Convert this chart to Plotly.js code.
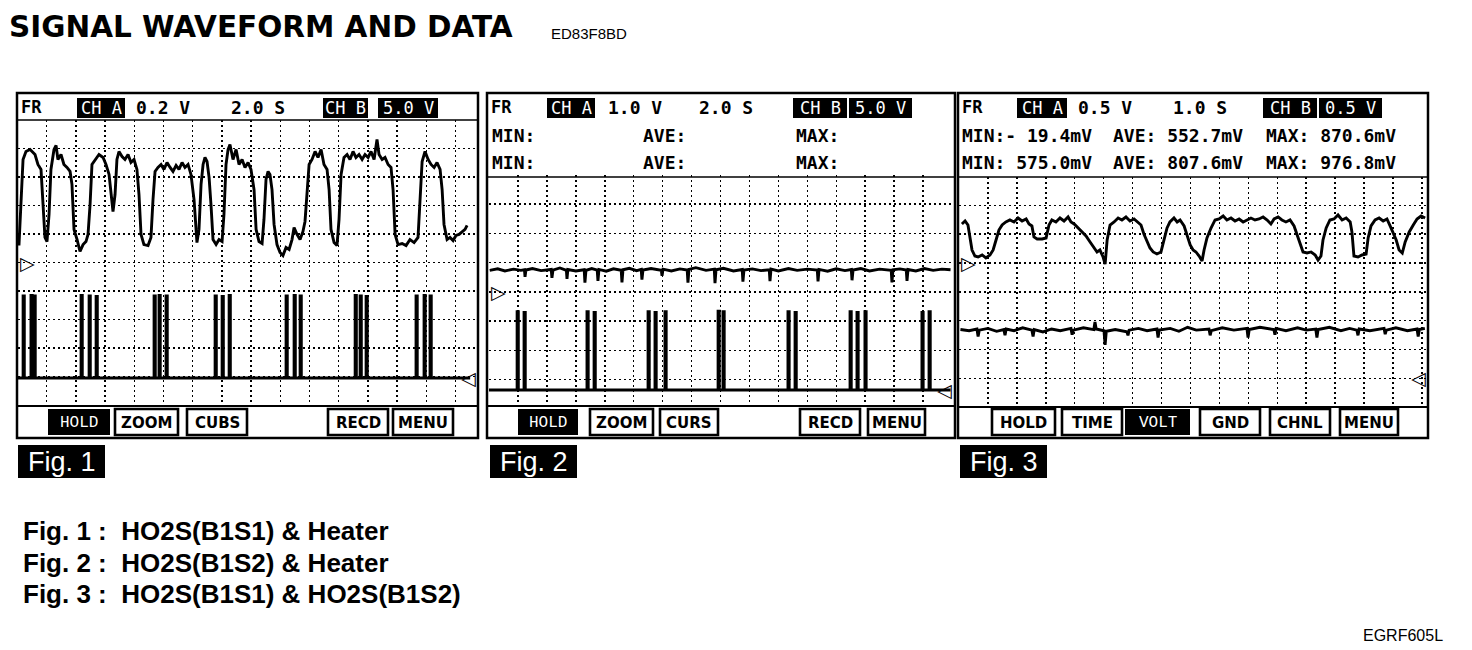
<!DOCTYPE html>
<html><head><meta charset="utf-8">
<script src="https://cdn.plot.ly/plotly-3.0.1.min.js"></script>
<style>html,body{margin:0;padding:0;background:#fff}#chart{width:1472px;height:650px}</style>
</head><body><div id="chart"></div>
<script>
// ===== Fig.1 : HO2S(B1S1) on CH A (0.2 V/div) & heater on CH B (5 V/div), 2.0 s/div
const fig1Time = [0.10,0.24,0.38,0.58,0.86,1.20,1.40,1.61,1.75,1.88,2.02,2.16,2.29,2.50,2.64,2.77,2.98,3.18,3.39,3.60,3.73,3.87,4.08,4.28,4.49,4.69,4.83,4.97,5.10,5.31,5.58,5.86,6.06,6.27,6.40,6.54,6.68,6.81,6.95,7.16,7.36,7.57,7.77,7.98,8.18,8.32,8.46,8.66,8.94,9.14,9.28,9.42,9.62,9.83,10.03,10.24,10.45,10.65,10.86,11.06,11.27,11.47,11.68,11.88,12.09,12.29,12.43,12.57,12.71,12.84,12.98,13.12,13.25,13.39,13.60,13.80,14.01,14.14,14.28,14.42,14.55,14.76,14.97,15.17,15.38,15.58,15.79,15.99,16.20,16.34,16.54,16.75,16.88,17.02,17.16,17.29,17.43,17.57,17.77,17.98,18.18,18.39,18.60,18.80,18.94,19.14,19.35,19.55,19.69,19.83,19.97,20.17,20.38,20.58,20.79,20.99,21.20,21.34,21.47,21.68,21.88,22.02,22.16,22.36,22.57,22.77,22.98,23.18,23.39,23.60,23.80,24.01,24.21,24.42,24.62,24.76,24.97,25.17,25.38,25.58,25.72,25.86,26.06,26.34,26.61,26.88,27.16,27.43,27.57,27.71,27.91,28.12,28.32,28.53,28.73,28.94,29.08,29.21,29.42,29.62,29.83,30.03,30.24,30.45,30.65,30.79];
const fig1ChA = [0.119,0.442,0.723,0.779,0.793,0.758,0.688,0.653,0.442,0.176,0.147,0.337,0.653,0.793,0.821,0.723,0.758,0.688,0.667,0.639,0.548,0.232,0.161,0.077,0.126,0.147,0.197,0.407,0.688,0.723,0.758,0.737,0.688,0.618,0.477,0.358,0.477,0.723,0.779,0.744,0.723,0.758,0.702,0.723,0.653,0.477,0.197,0.126,0.119,0.176,0.442,0.639,0.667,0.688,0.653,0.702,0.667,0.639,0.681,0.653,0.702,0.667,0.688,0.618,0.442,0.140,0.232,0.548,0.688,0.737,0.709,0.597,0.407,0.161,0.126,0.161,0.147,0.337,0.688,0.793,0.828,0.723,0.793,0.688,0.723,0.667,0.702,0.653,0.512,0.232,0.147,0.133,0.302,0.583,0.639,0.618,0.512,0.267,0.126,0.070,0.049,0.105,0.091,0.161,0.246,0.197,0.161,0.218,0.288,0.512,0.688,0.723,0.779,0.737,0.793,0.688,0.653,0.512,0.232,0.140,0.119,0.302,0.618,0.737,0.758,0.723,0.779,0.737,0.758,0.723,0.758,0.737,0.779,0.723,0.863,0.758,0.723,0.737,0.688,0.667,0.512,0.197,0.126,0.133,0.119,0.161,0.140,0.176,0.442,0.709,0.779,0.723,0.688,0.667,0.702,0.653,0.512,0.267,0.161,0.176,0.154,0.190,0.197,0.218,0.232,0.260];
const fig1HeaterPulses = [0.38,0.92,1.13, 4.35,4.90,5.38, 9.35,9.69,10.17, 13.53,14.01,14.49, 18.39,18.94,19.35, 23.12,23.46,23.87, 27.29,27.84,28.25];
const fig1HeaterPeak = [14.4,14.5,14.4, 14.5,14.4,14.3, 14.4,14.5,14.4, 14.4,14.3,14.5, 14.4,14.5,14.4, 14.5,14.4,14.3, 14.4,14.5,14.4];
const fig1HeaterEnd = 31.0;

// ===== Fig.2 : HO2S(B1S2) on CH A (1.0 V/div) & heater on CH B (5 V/div), 2.0 s/div
const fig2Time = [0.05,0.6,1.1,1.7,2.2,2.45,2.49,2.55,3.0,3.6,4.3,4.35,4.42,4.9,5.35,5.39,5.45,6.0,6.58,6.63,6.7,7.1,7.48,7.53,7.6,8.1,8.6,9.14,9.19,9.26,9.7,10.2,10.52,10.57,10.64,11.2,11.91,11.96,12.03,12.6,13.2,13.7,13.75,13.82,14.3,15.0,15.57,15.62,15.69,16.2,16.9,17.5,17.55,17.62,18.2,18.8,19.37,19.42,19.49,20.0,20.7,21.3,22.0,22.69,22.74,22.81,23.4,24.0,24.6,25.04,25.09,25.16,25.7,26.3,27.0,27.8,27.85,27.92,28.4,28.84,28.89,28.96,29.5,30.1,30.7,31.3,31.9];
const fig2ChA = [0.74,0.79,0.72,0.78,0.74,0.76,0.52,0.75,0.80,0.73,0.77,0.48,0.75,0.82,0.74,0.45,0.77,0.72,0.76,0.32,0.74,0.80,0.75,0.38,0.77,0.71,0.79,0.74,0.33,0.76,0.81,0.73,0.77,0.42,0.75,0.80,0.74,0.55,0.78,0.72,0.79,0.75,0.32,0.77,0.83,0.74,0.78,0.30,0.76,0.81,0.72,0.77,0.35,0.75,0.79,0.73,0.76,0.37,0.78,0.72,0.80,0.74,0.78,0.75,0.36,0.77,0.71,0.79,0.73,0.77,0.40,0.75,0.80,0.72,0.78,0.74,0.33,0.76,0.79,0.75,0.38,0.77,0.72,0.80,0.74,0.78,0.76];
const fig2HeaterPulses = [1.94,2.42, 6.77,7.26, 10.99,11.47,12.16, 15.83,16.17, 20.66,21.15, 24.95,25.43,25.98, 29.92,30.41];
const fig2HeaterPeak = [13.4,13.3, 13.4,13.3, 13.4,13.3,13.4, 13.5,13.4, 13.4,13.3, 13.4,13.3,13.4, 13.3,13.4];
const fig2HeaterEnd = 31.9;
const fig2Stats = ['MIN:', 'AVE:', 'MAX:'];

// ===== Fig.3 : HO2S(B1S1) on CH A (0.5 V/div) & HO2S(B1S2) on CH B (0.5 V/div), 1.0 s/div
const fig3TimeA = [0.10,0.21,0.31,0.45,0.55,0.66,0.80,0.93,1.07,1.18,1.28,1.38,1.49,1.62,1.76,1.90,2.04,2.18,2.32,2.42,2.52,2.59,2.70,2.87,3.01,3.11,3.21,3.35,3.49,3.63,3.77,3.87,3.98,4.11,4.25,4.39,4.53,4.67,4.77,4.87,4.98,5.05,5.12,5.22,5.36,5.50,5.63,5.77,5.91,6.05,6.19,6.29,6.39,6.50,6.60,6.71,6.84,6.98,7.09,7.19,7.29,7.43,7.54,7.64,7.78,7.88,7.99,8.09,8.19,8.30,8.40,8.47,8.57,8.71,8.85,8.99,9.13,9.26,9.40,9.54,9.68,9.82,9.95,10.09,10.23,10.37,10.51,10.65,10.78,10.89,11.03,11.16,11.30,11.44,11.58,11.68,11.79,11.89,12.03,12.17,12.31,12.41,12.51,12.58,12.69,12.82,12.96,13.10,13.24,13.38,13.52,13.58,13.65,13.79,13.93,14.07,14.14,14.24,14.38,14.52,14.66,14.79,14.90,15.00,15.11,15.21,15.32,15.42,15.56,15.70,15.83,15.97,16.11];
const fig3ChA = [0.676,0.728,0.659,0.225,0.121,0.104,0.139,0.087,0.139,0.225,0.399,0.572,0.659,0.711,0.746,0.711,0.780,0.728,0.763,0.676,0.642,0.451,0.416,0.416,0.434,0.659,0.746,0.711,0.780,0.728,0.798,0.711,0.676,0.607,0.538,0.468,0.364,0.260,0.191,0.225,0.104,-0.019,0.399,0.659,0.711,0.780,0.746,0.798,0.728,0.763,0.694,0.659,0.503,0.364,0.260,0.191,0.156,0.191,0.399,0.607,0.711,0.780,0.711,0.746,0.642,0.468,0.312,0.225,0.191,0.121,0.035,0.225,0.434,0.607,0.746,0.763,0.815,0.746,0.780,0.728,0.763,0.711,0.746,0.780,0.746,0.763,0.798,0.746,0.676,0.763,0.798,0.746,0.711,0.746,0.642,0.503,0.364,0.191,0.173,0.191,0.139,0.052,0.121,0.399,0.607,0.746,0.763,0.832,0.746,0.780,0.711,0.538,0.121,0.104,0.139,0.156,0.434,0.642,0.746,0.780,0.728,0.763,0.642,0.538,0.399,0.225,0.173,0.364,0.538,0.659,0.763,0.815,0.780];
const fig3TimeB = [0.05,0.35,0.62,0.66,0.70,1.0,1.3,1.55,1.59,1.63,1.9,2.2,2.52,2.56,2.6,2.9,3.2,3.5,3.87,3.91,3.95,4.3,4.66,4.70,4.74,5.01,5.05,5.09,5.4,5.8,5.84,5.88,6.2,6.5,6.84,6.88,6.92,7.3,7.6,7.9,8.2,8.64,8.68,8.72,9.1,9.5,9.95,9.99,10.03,10.4,10.88,10.92,10.96,11.3,11.7,12.0,12.33,12.37,12.41,12.8,13.2,13.5,13.75,13.79,13.83,14.2,14.69,14.73,14.77,15.1,15.5,15.83,15.87,15.91,16.1];
const fig3ChB = [0.84,0.82,0.85,0.72,0.83,0.86,0.81,0.84,0.74,0.85,0.82,0.87,0.83,0.72,0.84,0.80,0.85,0.82,0.86,0.75,0.83,0.87,0.84,0.97,0.85,0.82,0.575,0.81,0.84,0.80,0.74,0.83,0.86,0.82,0.85,0.70,0.83,0.86,0.81,0.88,0.83,0.85,0.74,0.82,0.87,0.83,0.86,0.70,0.84,0.88,0.84,0.75,0.86,0.82,0.87,0.83,0.85,0.70,0.84,0.88,0.82,0.86,0.83,0.74,0.85,0.82,0.86,0.76,0.83,0.87,0.82,0.85,0.72,0.84,0.86];
const fig3StatsA = [-19.4, 552.7, 870.6];
const fig3StatsB = [575.0, 807.6, 976.8];

// ===== Texts
const titleText = 'SIGNAL WAVEFORM AND DATA';
const titleCode = 'ED83F8BD';
const footCode = 'EGRF605L';
const captions = ['Fig. 1 :\u00a0 HO2S(B1S1) & Heater', 'Fig. 2 :\u00a0 HO2S(B1S2) & Heater', 'Fig. 3 :\u00a0 HO2S(B1S1) & HO2S(B1S2)'];
const figLabels = ['Fig. 1', 'Fig. 2', 'Fig. 3'];
const headerA = ['0.2 V', '1.0 V', '0.5 V'];
const headerT = ['2.0 S', '2.0 S', '1.0 S'];
const headerB = ['5.0 V', '5.0 V', '0.5 V'];
const buttons1 = ['HOLD', 'ZOOM', 'CUBS', 'RECD', 'MENU'];
const buttons2 = ['HOLD', 'ZOOM', 'CURS', 'RECD', 'MENU'];
const buttons3 = ['HOLD', 'TIME', 'VOLT', 'GND', 'CHNL', 'MENU'];

// ---------------------------------------------------------------
const W = 1472, H = 650;
const PX = x => x / W, PY = y => 1 - y / H;
const MONO = '"DejaVu Sans Mono", "Liberation Mono", monospace';
const SANS = '"Liberation Sans", Arial, sans-serif';
const LINE = {color: '#000', width: 2.9};

function heaterTrace(pulses, peaks, endT, xa, ya) {
  const w = 0.09; const xs = [0], ys = [0];
  pulses.forEach((t, i) => { xs.push(t, t, t + w, t + w); ys.push(0, peaks[i], peaks[i], 0); });
  xs.push(endT); ys.push(0);
  return {x: xs, y: ys, xaxis: xa, yaxis: ya, mode: 'lines', line: {color: '#000', width: 2.8}, hoverinfo: 'skip'};
}
const traces = [
  {x: fig1Time, y: fig1ChA, xaxis: 'x', yaxis: 'y', mode: 'lines', line: LINE},
  heaterTrace(fig1HeaterPulses, fig1HeaterPeak, fig1HeaterEnd, 'x', 'y2'),
  {x: fig2Time, y: fig2ChA, xaxis: 'x2', yaxis: 'y3', mode: 'lines', line: LINE},
  heaterTrace(fig2HeaterPulses, fig2HeaterPeak, fig2HeaterEnd, 'x2', 'y4'),
  {x: fig3TimeA, y: fig3ChA, xaxis: 'x3', yaxis: 'y5', mode: 'lines', line: LINE},
  {x: fig3TimeB, y: fig3ChB, xaxis: 'x3', yaxis: 'y6', mode: 'lines', line: LINE}
];

const gridAx = {showgrid: true, griddash: '2px,3px', gridcolor: '#000', gridwidth: 1.5, zeroline: false,
  showticklabels: false, ticks: '', showline: false, fixedrange: true};
const hidAx = {showgrid: false, zeroline: false, showticklabels: false, ticks: '', showline: false, fixedrange: true};
const X1 = [0, 31.40], X2 = [0, 32.0], X3 = [0, 16.14];
const layout = {
  width: W, height: H, margin: {l: 0, r: 0, t: 0, b: 0}, showlegend: false,
  paper_bgcolor: '#fff', plot_bgcolor: '#fff',
  xaxis: Object.assign({}, gridAx, {domain: [PX(17.5), PX(476)], range: X1, dtick: 2, tick0: 0, anchor: 'y'}),
  yaxis: Object.assign({}, gridAx, {domain: [PY(405), PY(120)], range: [-1.0, 1.0], dtick: 0.2, tick0: 0, anchor: 'x'}),
  yaxis2: Object.assign({}, hidAx, {overlaying: 'y', range: [-4.74, 45.26], anchor: 'x'}),
  xaxis2: Object.assign({}, gridAx, {domain: [PX(489), PX(952)], range: X2, dtick: 2, tick0: 0, anchor: 'y3'}),
  yaxis3: Object.assign({}, gridAx, {domain: [PY(406), PY(175)], range: [-3.9, 4.0], dtick: 1, tick0: 0, anchor: 'x2'}),
  yaxis4: Object.assign({}, hidAx, {overlaying: 'y3', range: [-2.74, 36.8], anchor: 'x2'}),
  xaxis3: Object.assign({}, gridAx, {domain: [PX(959), PX(1426)], range: X3, dtick: 1, tick0: 0, anchor: 'y5'}),
  yaxis5: Object.assign({}, gridAx, {domain: [PY(407), PY(177)], range: [-2.497, 1.491], dtick: 0.5, tick0: 0, anchor: 'x3'}),
  yaxis6: Object.assign({}, hidAx, {overlaying: 'y5', range: [-0.503, 3.486], anchor: 'x3'}),
  shapes: [], annotations: []
};

const S = layout.shapes, A = layout.annotations;
function rect(x0, y0, x1, y1, fill, lw) {
  S.push({type: 'rect', xref: 'paper', yref: 'paper', x0: PX(x0), x1: PX(x1), y0: PY(y1), y1: PY(y0),
    fillcolor: fill || 'rgba(0,0,0,0)', line: {color: '#000', width: lw == null ? 2 : lw}, layer: 'above'});
}
function hline(x0, x1, y, lw) {
  S.push({type: 'line', xref: 'paper', yref: 'paper', x0: PX(x0), x1: PX(x1), y0: PY(y), y1: PY(y), line: {color: '#000', width: lw || 2}, layer: 'above'});
}
function txt(x, y, s, o) {
  A.push(Object.assign({xref: 'paper', yref: 'paper', x: PX(x), y: PY(y), text: s, showarrow: false,
    xanchor: 'left', yanchor: 'middle', borderpad: 0, font: {family: MONO, size: 18, color: '#000', weight: 700}}, o || {}));
}
const bold = (sz, fam, col) => ({family: fam || MONO, size: sz, color: col || '#000', weight: 700});
const thin = (sz, fam, col) => ({family: fam || MONO, size: sz, color: col || '#fff', weight: 400});

// frames
rect(17, 93, 478, 438, null, 2.5); hline(17, 478, 120, 1.5); hline(17, 478, 406, 2);
rect(487, 93, 955, 438, null, 2.5); hline(487, 955, 177, 1.5); hline(487, 955, 406, 2);
rect(958, 93, 1428, 438, null, 2.5); hline(958, 1428, 177, 1.5); hline(958, 1428, 407, 2);

// headers
const hdr = [
  {fr: 20, cha: [77, 125], va: 135, vt: 230, chb: [323, 368], vb: [378, 438]},
  {fr: 490, cha: [547, 595], va: 607, vt: 698, chb: [793, 847], vb: [849, 912]},
  {fr: 961, cha: [1017, 1067], va: 1077, vt: 1172, chb: [1263, 1317], vb: [1319, 1382]}
];
hdr.forEach((h, i) => {
  txt(h.fr, 107, 'FR', {font: bold(17)});
  rect(h.cha[0], 98, h.cha[1], 118, '#000', 0);
  txt((h.cha[0] + h.cha[1]) / 2, 108, 'CH A', {xanchor: 'center', font: thin(17)});
  txt(h.va, 107, headerA[i], {font: bold(18)});
  txt(h.vt, 107, headerT[i], {font: bold(18)});
  rect(h.chb[0], 98, h.chb[1], 118, '#000', 0);
  txt((h.chb[0] + h.chb[1]) / 2, 108, 'CH B', {xanchor: 'center', font: thin(17)});
  rect(h.vb[0], 98, h.vb[1], 118, '#000', 0);
  txt((h.vb[0] + h.vb[1]) / 2, 108, headerB[i], {xanchor: 'center', font: thin(17)});
});
// statistics rows
const statX2 = [491, 642, 795];
fig2Stats.forEach((s, k) => { txt(statX2[k], 135, s, {font: bold(18)}); txt(statX2[k], 162, s, {font: bold(18)}); });
const fmt = (lab, v) => lab + (v < 0 ? '- ' + Math.abs(v).toFixed(1) : ' ' + v.toFixed(1)) + 'mV';
const statX3 = [961, 1112, 1265];
fig2Stats.forEach((s, k) => {
  txt(statX3[k], 135, fmt(s, fig3StatsA[k]), {font: bold(18)});
  txt(statX3[k], 162, fmt(s, fig3StatsB[k]), {font: bold(18)});
});

// buttons
function buttons(list, pos, filled, yb) {
  list.forEach((b, k) => {
    const [x0, x1] = pos[k];
    const f = filled.includes(b);
    rect(x0, yb[0], x1, yb[1], f ? '#000' : '#fff', f ? 0 : 2.6);
    txt((x0 + x1) / 2, (yb[0] + yb[1]) / 2 + 1, b, {xanchor: 'center',
      font: f ? thin(16, '"Liberation Mono", monospace') : bold(15, '"DejaVu Sans", sans-serif')});
  });
}
buttons(buttons1, [[48, 110], [115, 178], [187, 247], [328, 388], [393, 453]], ['HOLD'], [409, 435]);
buttons(buttons2, [[518, 578], [590, 653], [660, 718], [800, 860], [868, 925]], ['HOLD'], [409, 435]);
buttons(buttons3, [[992, 1055], [1062, 1122], [1125, 1190], [1200, 1260], [1270, 1330], [1340, 1398]], ['VOLT'], [409, 435]);

// figure labels
[[18, 105], [490, 577], [960, 1047]].forEach((p, i) => {
  rect(p[0], 445, p[1], 478, '#000', 0);
  txt((p[0] + p[1]) / 2, 462, figLabels[i], {xanchor: 'center', font: {family: SANS, size: 27, color: '#fff', weight: 400}});
});

// channel zero markers (triangles), placed at each channel's 0 V
[['x', 'y', X1], ['x2', 'y3', X2], ['x3', 'y5', X3]].forEach(a => {
  A.push({xref: a[0], yref: a[1], x: a[2][0], y: 0, text: '\u25B7', showarrow: false, xanchor: 'left', yanchor: 'middle', xshift: 0,
    font: {family: '"DejaVu Sans", sans-serif', size: 19, color: '#000', weight: 700}});
});
[['x', 'y2', X1], ['x2', 'y4', X2], ['x3', 'y6', X3]].forEach(a => {
  A.push({xref: a[0], yref: a[1], x: a[2][1], y: 0, text: '\u25C1', showarrow: false, xanchor: 'right', yanchor: 'middle', xshift: 2,
    font: {family: '"DejaVu Sans", sans-serif', size: 19, color: '#000', weight: 700}});
});

// titles and captions
txt(8, 27, titleText, {font: {family: '"DejaVu Sans", sans-serif', size: 29.5, color: '#000', weight: 700}});
txt(550, 33, titleCode, {font: {family: SANS, size: 15, color: '#000', weight: 400}});
txt(1362, 635, footCode, {font: {family: SANS, size: 16, color: '#000', weight: 400}});
captions.forEach((c, i) => txt(22, 531 + i * 31.5, c, {font: {family: SANS, size: 26, color: '#000', weight: 700}}));

Plotly.newPlot('chart', traces, layout, {staticPlot: true, displayModeBar: false});
</script>
</body></html>
